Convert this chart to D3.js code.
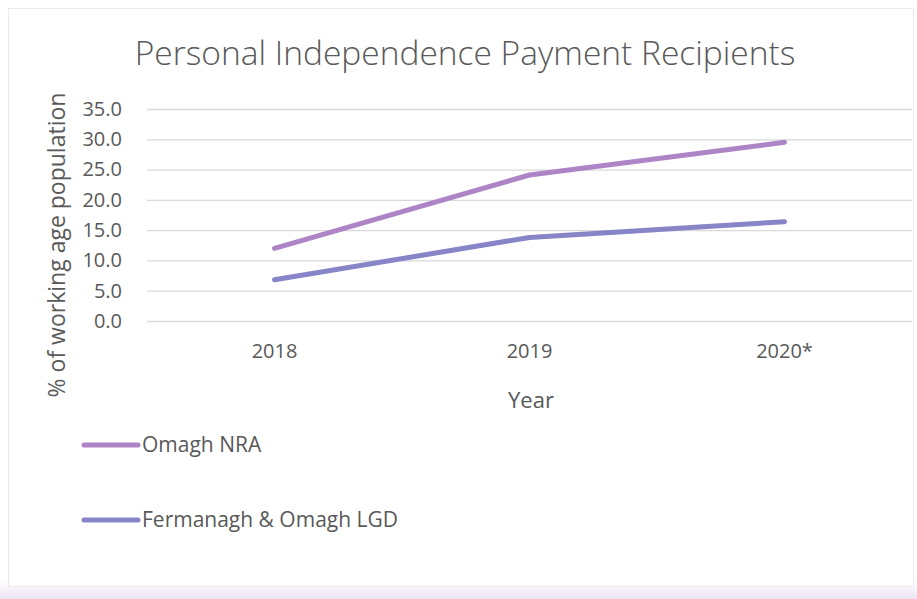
<!DOCTYPE html>
<html>
<head>
<meta charset="utf-8">
<script src="https://cdn.jsdelivr.net/npm/d3@7"></script>
<style>
  body { margin: 0; background: #fff; }
  text { font-family: "Open Sans", "Noto Sans", sans-serif; fill: #595959; }
</style>
</head>
<body>
<svg id="chart" width="917" height="599"></svg>
<script>
const years = ['2018', '2019', '2020*'];
const seriesNames = ['Omagh NRA', 'Fermanagh & Omagh LGD'];
const omaghNRA = [12.0, 24.1, 29.5];
const fermanaghOmagh = [6.8, 13.8, 16.4];
const yTicks = [0, 5, 10, 15, 20, 25, 30, 35];
const colors = ['#ad84c6', '#8784c7'];

const svg = d3.select('#chart');
const width = 917, height = 599;
const margin = {top: 109, right: 5, bottom: 278, left: 147};

// faint frame with lavender shade at the bottom
const defs = svg.append('defs');
const grad = defs.append('linearGradient').attr('id', 'shade').attr('x1', 0).attr('y1', 0).attr('x2', 0).attr('y2', 1);
grad.append('stop').attr('offset', '0%').attr('stop-color', '#ffffff');
grad.append('stop').attr('offset', '100%').attr('stop-color', '#ece3f4');
svg.append('rect').attr('x', 0).attr('y', 580).attr('width', width).attr('height', 19).attr('fill', 'url(#shade)');
svg.append('rect').attr('x', 8.5).attr('y', 8.5).attr('width', width - 12).attr('height', 578)
    .attr('fill', '#fff').attr('stroke', '#eee8f3');

const x = d3.scaleBand().domain(years).range([margin.left, width - margin.right]);
const y = d3.scaleLinear().domain([0, 35]).range([height - margin.bottom, margin.top]);

// gridlines
svg.append('g')
    .attr('transform', `translate(${margin.left},0)`)
    .call(d3.axisLeft(y).tickValues(yTicks).tickSize(-(width - margin.left - margin.right)).tickFormat(''))
    .call(g => g.select('.domain').remove())
    .call(g => g.selectAll('line').attr('stroke', '#d9d9d9').attr('stroke-width', 1.3));

// y tick labels
svg.append('g')
    .attr('transform', `translate(${margin.left - 22},0)`)
    .call(d3.axisLeft(y).tickValues(yTicks).tickSize(0).tickFormat(d3.format('.1f')))
    .call(g => g.select('.domain').remove())
    .call(g => g.selectAll('text').attr('font-size', 20).attr('fill', '#595959'));

// x tick labels
svg.append('g')
    .attr('transform', `translate(0,${height - margin.bottom + 20})`)
    .call(d3.axisBottom(x).tickSize(0))
    .call(g => g.select('.domain').remove())
    .call(g => g.selectAll('text').attr('font-size', 20).attr('fill', '#595959'));

// lines
const line = d3.line().x((d, i) => x(years[i]) + x.bandwidth() / 2).y(d => y(d));
[omaghNRA, fermanaghOmagh].forEach((vals, i) => {
  svg.append('path').datum(vals)
      .attr('d', line)
      .attr('fill', 'none')
      .attr('stroke', colors[i])
      .attr('stroke-width', 5)
      .attr('stroke-linecap', 'round')
      .attr('stroke-linejoin', 'round');
});

// titles
svg.append('text').attr('x', 465).attr('y', 65).attr('text-anchor', 'middle')
    .attr('font-size', 33.5).attr('font-weight', 300).text('Personal Independence Payment Recipients');
svg.append('text').attr('x', 531).attr('y', 408).attr('text-anchor', 'middle')
    .attr('font-size', 22).text('Year');
svg.append('text').attr('transform', 'translate(65,245) rotate(-90)').attr('text-anchor', 'middle')
    .attr('font-size', 23).text('% of working age population');

// legend
const legend = svg.append('g');
seriesNames.forEach((name, i) => {
  const ly = 445 + i * 75;
  legend.append('line').attr('x1', 84).attr('x2', 138).attr('y1', ly).attr('y2', ly)
      .attr('stroke', colors[i]).attr('stroke-width', 5).attr('stroke-linecap', 'round');
  legend.append('text').attr('x', 142).attr('y', ly + 7).attr('font-size', 21).text(name);
});
</script>
</body>
</html>
